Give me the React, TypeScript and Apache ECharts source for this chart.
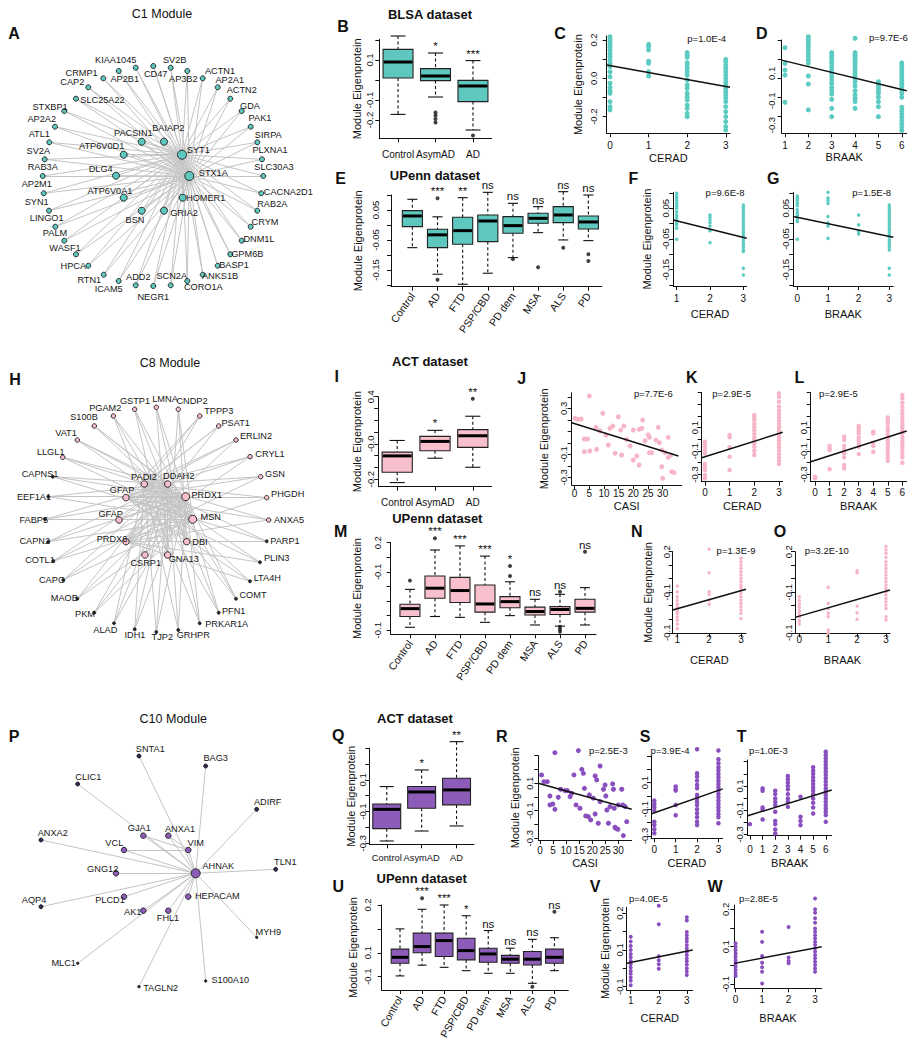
import React, { useEffect, useRef } from "react";
import * as echarts from "echarts";

// ================= DATA =================
// ---- Networks: [gene, x, y, kind] in each network's own layout frame (kind: 0 outer, 1 inner, 2 hub, 3 tiny)
const c1Nodes: [string, number, number, number][] = [
  ["KIAA1045", 135.7, 67.7, 0], ["AP2B1", 118.7, 71, 0], ["CRMP1", 103.3, 78.3, 0], ["CAP2", 88.3, 87.3, 0],
  ["SLC25A22", 76, 98.7, 0], ["STXBP1", 64.3, 111, 0], ["AP2A2", 55, 126.7, 0], ["ATL1", 49.3, 142.3, 0],
  ["SV2A", 44.7, 159.3, 0], ["RAB3A", 42.7, 176, 0], ["AP2M1", 43.7, 193.3, 0], ["SYN1", 49, 210.7, 0],
  ["LINGO1", 55.3, 226.7, 0], ["PALM", 64.3, 240.7, 0], ["WASF1", 76, 254.3, 0], ["HPCA", 88.3, 265.7, 0],
  ["RTN1", 103.7, 274.7, 0], ["ICAM5", 118.7, 281, 0], ["ADD2", 135.7, 285.3, 0], ["NEGR1", 153.3, 286, 0],
  ["SCN2A", 170.7, 285.3, 0], ["CORO1A", 187.3, 281, 0], ["ANKS1B", 202.7, 274.7, 0], ["BASP1", 217.7, 265.7, 0],
  ["GPM6B", 230.3, 254.3, 0], ["DNM1L", 241.7, 240.7, 0], ["CRYM", 250.7, 226.7, 0], ["RAB2A", 257.3, 210.7, 0],
  ["CACNA2D1", 261.3, 193.3, 0], ["SLC30A3", 263.3, 176, 0], ["PLXNA1", 262, 159.3, 0], ["SIRPA", 257.3, 142.3, 0],
  ["PAK1", 250.7, 126.7, 0], ["GDA", 241.7, 111, 0], ["ACTN2", 230.3, 98.7, 0], ["AP2A1", 217.7, 87.3, 0],
  ["ACTN1", 202.7, 78.3, 0], ["AP3B2", 187.3, 71, 0], ["SV2B", 170.7, 67.7, 0], ["CD47", 153.3, 66, 0],
  ["PACSIN1", 141.7, 141.7, 1], ["BAIAP2", 164, 141.7, 1], ["SYT1", 182, 154.7, 2], ["ATP6V0D1", 123.7, 154.7, 1],
  ["DLG4", 116, 175.7, 1], ["STX1A", 189.3, 176, 2], ["ATP6V0A1", 123.7, 197.7, 1], ["HOMER1", 182.7, 197.7, 1],
  ["BSN", 141.7, 210.7, 1], ["GRIA2", 164, 210.7, 1],
];
const c1Hubs = ["SYT1", "STX1A"];

const c8Nodes: [string, number, number, number][] = [
  ["GSTP1", 134.7, 69.3, 0], ["PGAM2", 113.3, 76, 0], ["S100B", 94.3, 86, 0], ["VAT1", 77.3, 100, 0],
  ["LLGL1", 62.7, 117.3, 0], ["CAPNS1", 52.7, 136.7, 3], ["EEF1A1", 48.3, 156.7, 3], ["FABP5", 45, 179.3, 3],
  ["CAPN2", 48.3, 201.7, 3], ["COTL1", 53.3, 221, 3], ["CAPG", 63.3, 240, 3], ["MAOB", 77.3, 258.7, 3],
  ["PKM", 94.3, 272.7, 3], ["ALAD", 114, 283.3, 3], ["IDH1", 134.7, 289.3, 3], ["TJP2", 156.3, 292, 3],
  ["GRHPR", 178.3, 290, 3], ["PRKAR1A", 199.7, 283.3, 3], ["PFN1", 218.7, 272.7, 3], ["COMT", 236, 258.7, 3],
  ["LTA4H", 250, 241.3, 3], ["PLIN3", 260, 222.3, 3], ["PARP1", 266.7, 201.3, 3], ["ANXA5", 268.7, 180, 0],
  ["PHGDH", 266.7, 157.7, 0], ["GSN", 260.7, 136.7, 0], ["CRYL1", 250, 116.7, 0], ["ERLIN2", 236, 100, 0],
  ["PSAT1", 218.7, 86, 0], ["TPPP3", 199.7, 76, 0], ["CNDP2", 178.3, 69.3, 0], ["LMNA", 156.3, 67.3, 0],
  ["PADI2", 144.3, 144, 1], ["DDAH2", 167.7, 144, 1], ["GFAP", 126, 157.7, 1], ["PRDX1", 185.7, 156.7, 2],
  ["GFAP", 119, 180, 1], ["MSN", 192.7, 179.3, 2], ["PRDX6", 126, 201.7, 1], ["DBI", 186.7, 201.7, 1],
  ["CSRP1", 145, 215, 1], ["GNA13", 167.7, 215, 1],
];
// groups of node indices and the inner nodes each of them links to
const c8LinkGroups: [number[], number[]][] = [
  [[2, 3, 4, 5, 6, 7, 8, 9, 10, 11, 12], [35, 37, 33]],
  [[13, 14, 15, 16, 17, 18, 19], [35, 32, 33]],
  [[20, 21, 22, 23, 24, 25, 26, 27, 28, 29], [34, 38, 32]],
  [[0, 1, 30, 31], [37, 39, 41]],
  [[32], [35, 37]], [[33], [36, 38]], [[34], [37]], [[36], [35]], [[38], [35]], [[40], [35, 33]], [[41], [33]], [[39], [34]],
];

const c10Nodes: [string, number, number, number][] = [
  ["SNTA1", 139, 86, 0], ["BAG3", 205.7, 96, 0], ["CLIC1", 77.7, 114, 0], ["ADIRF", 256.7, 139.3, 0],
  ["ANXA2", 41, 170, 0], ["GJA1", 143.3, 165.7, 1], ["ANXA1", 168.3, 165.7, 1], ["VIM", 188.3, 180, 1],
  ["VCL", 124, 180, 1], ["AHNAK", 195.7, 203.3, 2], ["TLN1", 275.7, 199.3, 0], ["GNG12", 116, 203.3, 1],
  ["PLCD1", 124, 226.7, 1], ["HEPACAM", 188.3, 226.7, 1], ["AQP4", 41, 236.7, 0], ["AK1", 143.3, 240.7, 1],
  ["FHL1", 168.3, 240.7, 1], ["MYH9", 256.7, 267.3, 3], ["MLC1", 77.7, 293.3, 3], ["TAGLN2", 139, 316.7, 3],
  ["S100A10", 205.7, 311, 3],
];
const c10Extra: [string, string][] = [["GJA1", "VIM"], ["ANXA1", "VIM"], ["VCL", "VIM"]];

// ---- Box plots: [lower whisker, Q1, median, Q3, upper whisker]; outliers [group, value]
const blsaCats = ["Control", "AsymAD", "AD"];
const upennCats = ["Control", "AD", "FTD", "PSP/CBD", "PD dem", "MSA", "ALS", "PD"];

const bBox = [[-0.172, 0.01, 0.09, 0.153, 0.22], [-0.085, -0.003, 0.02, 0.057, 0.135], [-0.25, -0.108, -0.03, -0.002, 0.097]];
const bOut = [[2, -0.162], [2, -0.178], [2, -0.195], [2, -0.212], [3, -0.277]];
const bSig = ["", "*", "***"];

const eBox = [
  [-0.0757, -0.0056, 0.03, 0.048, 0.0857], [-0.1644, -0.0757, -0.033, -0.0144, 0.0272],
  [-0.1978, -0.0644, -0.0189, 0.0256, 0.0911], [-0.161, -0.0556, 0.0133, 0.0333, 0.1089],
  [-0.1089, -0.0278, -0.0022, 0.0278, 0.0722], [-0.0256, 0.0056, 0.0222, 0.0389, 0.0611],
  [-0.05, 0.0078, 0.0333, 0.0611, 0.1111], [-0.0522, -0.0133, 0.01, 0.03, 0.1],
];
const eOut = [[2, 0.089], [2, -0.183], [5, -0.114], [6, -0.141], [7, -0.076], [8, -0.098], [8, -0.12]];
const eSig = ["", "***", "**", "ns", "ns", "ns", "ns", "ns"];

const iBox = [[-0.33, -0.242, -0.103, -0.071, 0.028], [-0.123, -0.06, 0.02, 0.063, 0.114], [-0.2, -0.031, 0.068, 0.12, 0.234]];
const iOut = [[3, 0.382]];
const iSig = ["", "*", "**"];

const mBox = [
  [-0.09, -0.053, -0.026, -0.011, 0.04], [-0.053, 0.0096, 0.044, 0.086, 0.175],
  [-0.056, -0.005, 0.036, 0.081, 0.189], [-0.073, -0.038, -0.01, 0.055, 0.154],
  [-0.05, -0.023, -0.002, 0.015, 0.066], [-0.082, -0.048, -0.036, -0.021, 0.006],
  [-0.086, -0.046, -0.029, -0.019, 0.023], [-0.082, -0.038, -0.025, 0.006, 0.046],
];
const mOut = [[1, 0.07], [2, 0.215], [5, 0.12], [5, 0.086], [7, 0.032], [7, -0.088], [7, -0.097], [7, -0.105], [8, 0.169]];
const mSig = ["", "***", "***", "***", "*", "ns", "ns", "ns"];

const qBox = [[-0.286, -0.208, -0.086, -0.052, 0.058], [-0.223, -0.079, 0.024, 0.058, 0.163], [-0.191, -0.058, 0.037, 0.111, 0.342]];
const qOut: number[][] = [];
const qSig = ["", "*", "**"];

const uBox = [
  [-0.097, -0.044, -0.019, 0.015, 0.1], [-0.052, 0.0, 0.026, 0.082, 0.182],
  [-0.061, -0.016, 0.051, 0.082, 0.2], [-0.075, -0.03, 0.009, 0.061, 0.155],
  [-0.086, -0.04, -0.005, 0.019, 0.093], [-0.086, -0.044, -0.027, -0.011, 0.019],
  [-0.128, -0.051, -0.027, 0.005, 0.056], [-0.075, -0.044, -0.019, 0.015, 0.063],
];
const uOut = [[2, 0.228], [7, -0.142], [8, 0.172]];
const uSig = ["", "***", "***", "*", "ns", "ns", "ns", "ns"];

// ---- Scatter columns (module eigenprotein values at each stage)
const c0 = [0.217, 0.203, 0.19, 0.175, 0.162, 0.148, 0.13, 0.113, 0.095, 0.078, 0.061, 0.034, 0.008, -0.026, -0.047, -0.065, -0.078, -0.122, -0.148, -0.165];
const c1 = [0.177, 0.165, 0.148, 0.09, 0.078, 0.034, 0.012];
const c2 = [0.134, 0.122, 0.11, 0.081, 0.069, 0.052, 0.034, 0.017, -0.009, -0.035, -0.052, -0.078, -0.096, -0.113, -0.139, -0.157, -0.183, -0.2];
const c3 = [0.099, 0.087, 0.069, 0.052, 0.034, 0.017, 0, -0.018, -0.035, -0.052, -0.07, -0.087, -0.104, -0.122, -0.148, -0.174, -0.2, -0.226, -0.252, -0.27];
const cLine = [[-0.086, 0.069], [3.11, -0.047]];

const d1 = [0.16, 0.078, 0.043, 0.017, -0.125];
const d2 = [0.217, 0.203, 0.191, 0.174, 0.162, 0.148, 0.13, 0.113, 0.095, 0.078, 0.012, -0.03, -0.165];
const d3 = [0.134, 0.122, 0.11, 0.095, 0.078, 0.061, 0.043, 0.026, 0.008, -0.009, -0.026, -0.047, -0.065, -0.082, -0.11, -0.157, -0.2];
const d4 = [0.209, 0.134, 0.122, 0.11, 0.095, 0.081, 0.069, 0.052, 0.04, 0.026, 0.012, 0, -0.018, -0.04, -0.065, -0.087, -0.104, -0.122, -0.157];
const d5 = [-0.018, -0.03, -0.04, -0.052, -0.065, -0.078, -0.099, -0.122, -0.148, -0.2];
const d6 = [0.081, 0.069, 0.057, 0.043, 0.029, 0.017, 0.005, -0.009, -0.023, -0.035, -0.047, -0.061, -0.078, -0.099, -0.151, -0.169, -0.186, -0.203, -0.221, -0.238, -0.256, -0.273];
const dLine = [[0.86, 0.095], [6.21, -0.065]];

const f1 = [0.099, 0.09, 0.083, 0.075, 0.066, 0.058, 0.05, 0.039, 0.028, 0.021, 0.012, 0.003, -0.004, -0.015, -0.051];
const f2 = [0.028, 0.021, 0.012, 0.003, -0.0075, -0.023, -0.062];
const f3 = [0.061, 0.053, 0.045, 0.036, 0.028, 0.021, 0.012, 0.003, -0.004, -0.013, -0.021, -0.029, -0.037, -0.044, -0.053, -0.062, -0.069, -0.077, -0.086, -0.091, -0.145, -0.167];
const fLine = [[0.9, 0.012], [3.1, -0.0476]];

const g0 = [0.09, 0.083, 0.075, 0.066, 0.058, 0.045, 0.036, 0.028, 0.021, 0.012, 0.007, -0.051];
const g1 = [0.102, 0.083, 0.075, 0.066, 0.023, 0.003, -0.0075, -0.048];
const g2 = [0.028, -0.004, -0.026, -0.034];
const g3 = [0.061, 0.053, 0.045, 0.036, 0.028, 0.021, 0.012, 0.003, -0.004, -0.013, -0.021, -0.029, -0.037, -0.044, -0.053, -0.062, -0.069, -0.077, -0.086, -0.145, -0.167];
const gLine = [[-0.13, 0.023], [3.13, -0.044]];

const jPts = [[0.1, 0.213], [1.0, 0.204], [2.2, 0.207], [5.0, 0.407], [3.3, 0.033], [4.4, 0.033], [3.3, -0.077], [5.2, -0.071], [7.5, -0.057], [9.6, 0.257], [7.3, 0.135], [8.6, 0.105], [10.7, 0.068], [12.0, 0.126], [13.0, 0.146], [11.5, -0.019], [13.8, -0.091], [14.9, 0.227], [15.7, 0.111], [16.0, -0.106], [16.8, 0.146], [17.7, 0.03], [18.9, -0.028], [20.0, 0.111], [20.0, -0.15], [21.2, -0.115], [22.0, 0.117], [22.0, -0.193], [22.9, 0.126], [23.2, 0.198], [24.0, 0.018], [25.1, 0.068], [25.5, 0.048], [25.5, -0.086], [26.3, -0.086], [27.7, 0.024], [28.5, 0.135], [28.9, 0.001], [29.7, -0.063], [29.7, -0.208], [30.0, -0.309], [30.8, -0.086], [31.9, 0.048], [31.9, -0.126], [32.8, -0.106], [33.1, -0.251], [33.9, -0.26]];
const jLine = [[-1, 0.175], [35.4, -0.115]];

const k0 = [-0.02, -0.04, -0.063, -0.091, -0.12, -0.211, -0.234, -0.262, -0.305, -0.333];
const k1 = [0.037, 0.017, -0.068, -0.149, -0.262];
const k2 = [0.208, 0.188, 0.165, 0.131, 0.103, 0.074, 0.045, 0.017, -0.006, -0.034, -0.063, -0.097, -0.134];
const k3 = [0.393, 0.364, 0.321, 0.279, 0.244, 0.216, 0.188, 0.159, 0.131, 0.103, 0.074, 0.045, 0.017, -0.012, -0.04, -0.068, -0.097, -0.126, -0.154, -0.183, -0.211];
const kLine = [[-0.13, -0.157], [3.15, 0.06]];

const l0 = [-0.32, -0.333];
const l1 = [-0.057, -0.077, -0.091, -0.256];
const l2 = [0.022, -0.006, -0.057, -0.091, -0.12, -0.154, -0.22, -0.248];
const l3 = [0.114, 0.094, 0.074, 0.051, 0.017, -0.006, -0.034, -0.063, -0.126];
const l4 = [0.065, 0.051, -0.029, -0.057, -0.106];
const l5 = [0.188, 0.165, 0.137, 0.103, 0.074, 0.045, 0.017, -0.012, -0.04, -0.068, -0.097, -0.126, -0.154, -0.183];
const l6 = [0.379, 0.35, 0.313, 0.279, 0.244, 0.216, 0.188, 0.159, 0.131, 0.103, 0.074, 0.045, 0.017, -0.012, -0.04, -0.068, -0.097, -0.126, -0.154, -0.2];
const lLine = [[-0.3, -0.191], [6.3, 0.071]];

const n1 = [0.073, 0.052, 0.033, 0.019, 0.006, -0.006, -0.019, -0.028, -0.041, -0.053, -0.068, -0.084];
const n2 = [0.209, 0.122, 0.052, 0.043, 0.021, 0.006];
const n3 = [0.176, 0.163, 0.151, 0.139, 0.126, 0.114, 0.101, 0.089, 0.077, 0.068, 0.058, 0.046, 0.033, 0.021, 0.009, -0.004, -0.016, -0.028, -0.047];
const nLine = [[0.855, -0.016], [3.16, 0.061]];

const o0 = [0.033, 0.019, 0.006, -0.006, -0.019, -0.028, -0.041, -0.056, -0.068];
const o1 = [0.068, 0.009, -0.01, -0.028, -0.041, -0.09, -0.1];
const o2 = [0.13, 0.122, -0.001, -0.026, -0.05];
const o3 = [0.219, 0.206, 0.194, 0.179, 0.163, 0.151, 0.139, 0.126, 0.114, 0.101, 0.089, 0.077, 0.064, 0.052, 0.04, 0.027, 0.015, 0.003, -0.01, -0.041, -0.053];
const oLine = [[-0.15, -0.043], [3.14, 0.058]];

const rPts = [[0.6, 0.16], [1.5, 0.111], [2.8, 0.111], [5.7, 0.322], [3.8, 0.007], [3.8, -0.058], [4.9, -0.051], [5.7, -0.09], [7.0, -0.002], [7.9, 0.056], [9.6, 0.046], [10.5, 0.046], [11.5, 0.002], [12.1, 0.027], [13.0, 0.16], [13.8, -0.058], [14.7, 0.337], [15.3, -0.082], [16.0, 0.201], [16.6, 0.172], [17.0, 0.063], [17.5, -0.138], [18.5, -0.143], [18.9, 0.015], [19.4, -0.167], [20.4, -0.009], [21.1, 0.153], [21.1, -0.124], [21.7, 0.124], [22.3, -0.191], [23.0, 0.225], [23.0, -0.034], [24.3, 0.056], [24.9, 0.087], [25.2, 0.007], [25.6, -0.095], [26.2, -0.191], [26.8, -0.07], [27.8, 0.095], [28.1, 0.056], [28.4, -0.082], [28.7, -0.22], [29.0, -0.228], [29.8, -0.235], [30.0, -0.058], [31.3, 0.056], [31.7, -0.058], [31.9, -0.281], [32.6, -0.07], [33.2, -0.18]];
const rLine = [[-0.65, 0.1], [35.1, -0.089]];

const s0 = [-0.035, -0.06, -0.085, -0.11, -0.193, -0.218, -0.25, -0.28];
const s1 = [0.071, 0.05, 0.04, -0.068, -0.145];
const s2 = [0.351, 0.171, 0.145, 0.115, 0.083, 0.058, 0.008, -0.017, -0.043, -0.068, -0.1, -0.13, -0.16, -0.193, -0.218];
const s3 = [0.341, 0.276, 0.246, 0.216, 0.191, 0.165, 0.14, 0.115, 0.09, 0.065, 0.04, 0.015, -0.01, -0.035, -0.06, -0.085, -0.11, -0.135, -0.16, -0.205];
const sLine = [[-0.155, -0.135], [3.2, 0.053]];

const t0 = [-0.215];
const t1 = [0.08, 0.06, -0.077, -0.094, -0.177];
const t2 = [0.06, 0.033, -0.003, -0.031, -0.058, -0.113, -0.188, -0.215, -0.259, -0.292];
const t3 = [0.182, 0.155, 0.126, 0.099, 0.072, 0.033, -0.003, -0.031, -0.072];
const t4 = [0.011, -0.154, -0.188, -0.223];
const t5 = [0.255, 0.226, 0.198, 0.171, 0.143, 0.116, 0.088, 0.06, 0.033, -0.003, -0.039, -0.077, -0.127];
const t6 = [0.383, 0.355, 0.328, 0.3, 0.273, 0.245, 0.218, 0.19, 0.163, 0.135, 0.107, 0.08, 0.052, 0.025, -0.003, -0.031, -0.058, -0.085, -0.113, -0.14, -0.196];
const tLine = [[-0.18, -0.146], [6.47, 0.066]];

const v1 = [0.136, 0.123, 0.111, 0.1, 0.089, 0.08, 0.07, 0.061, 0.052, 0.043, 0.035, 0.025, 0.016, 0.004];
const v2 = [0.22, 0.17, 0.083, 0.072, 0.061, 0.049];
const v3 = [0.189, 0.18, 0.149, 0.14, 0.131, 0.123, 0.113, 0.104, 0.095, 0.086, 0.077, 0.069, 0.06, 0.05, 0.041, 0.032];
const vLine = [[0.857, 0.0637], [3.21, 0.1]];

const w0 = [0.109, 0.1, 0.091, 0.082, 0.073, 0.064, 0.056, 0.047, 0.038, 0.029, 0.022];
const w1 = [0.14, 0.113, 0.075, 0.057, 0.045, 0.033, 0.002];
const w2 = [0.153, 0.071, 0.062, 0.056];
const w3 = [0.229, 0.2, 0.191, 0.176, 0.164, 0.149, 0.14, 0.131, 0.122, 0.113, 0.105, 0.096, 0.087, 0.078, 0.069, 0.06, 0.051, 0.042, 0.033];
const wLine = [[-0.05, 0.0556], [3.25, 0.1]];

// ---- Tick values and tick labels
const stage3 = [0, 1, 2, 3];
const stage13 = [1, 2, 3];
const stage16 = [1, 2, 3, 4, 5, 6];
const stage06 = [0, 1, 2, 3, 4, 5, 6];
const casiTicks = [0, 5, 10, 15, 20, 25, 30];
const tick02 = [0.2, 0.1, 0, -0.1, -0.2];
const tick03 = [0.3, 0.2, 0.1, 0, -0.1, -0.2, -0.3];
const tick04 = [0.4, 0.3, 0.2, 0.1, 0, -0.1, -0.2, -0.3];
const tickE = [0.1, 0.05, 0, -0.05, -0.1, -0.15, -0.2];
const tickM = [0.2, 0.15, 0.1, 0.05, 0, -0.05, -0.1];
const tickU = [0.2, 0.1, 0, -0.1];
const tickV = [0.2, 0.15, 0.1, 0.05, 0];
const bYAt = [0.1, -0.1, -0.2], bYLab = ["0.1", "-0.1", "-0.2"];
const cYAt = [0.2, 0, -0.2], cYLab = ["0.2", "0.0", "-0.2"];
const dYAt = [0.026, -0.117, -0.244], dYLab = ["0.1", "-0.1", "-0.3"];
const eYAt = [0.05, -0.05, -0.15], eYLab = ["0.05", "-0.05", "-0.15"];
const iYAt = [0.4, 0, -0.3], iYLab = ["0.4", "-0.0", "-0.2"];
const jYAt = [0.3, -0.1, -0.3], jYLab = ["0.3", "-0.1", "-0.3"];
const kYAt = [0.1, -0.1, -0.3], kYLab = ["0.1", "-0.1", "-0.3"];
const mYAt = [0.2, 0.1, -0.1], mYLab = ["0.2", "-0.1", "-0.1"];
const nYAt = [0.2, 0.05, -0.1], nYLab = ["0.2", "-0.1", "-0.1"];
const uYAt = [0.2, 0, -0.1], uYLab = ["0.2", "0.1", "-0.1"];
const vYAt = [0.2, 0.1, 0], vYLab = ["0.2", "0.1", "-0.1"];

const pTexts = ["p=1.0E-4", "p=9.7E-6", "p=9.6E-8", "p=1.5E-8", "p=7.7E-6", "p=2.9E-5", "p=2.9E-5", "p=1.3E-9", "p=3.2E-10", "p=2.5E-3", "p=3.9E-4", "p=1.0E-3", "p=4.0E-5", "p=2.8E-5"];
const moduleTitles = ["C1 Module", "C8 Module", "C10 Module"];
const datasetTitles = ["BLSA dataset", "UPenn dataset", "ACT dataset", "UPenn dataset", "ACT dataset", "UPenn dataset"];
const panelLetters = ["A", "B", "C", "D", "E", "F", "G", "H", "I", "J", "K", "L", "M", "N", "O", "P", "Q", "R", "S", "T", "U", "V", "W"];

// ================= LAYOUT & STYLE =================
const FONT = "'Liberation Sans', Arial, Helvetica, sans-serif";
const INK = "#111111";
const TEAL = "#5ec8bf", TEAL_DOT = "#5ccbc2";
const PINK = "#f8bfcc", PINK_DOT = "#f6b6c7";
const PURPLE = "#8d5cb9", PURPLE_DOT = "#8a4fbe";
const YNAME = "Module Eigenprotein";

const c1LabelOff = [[-20, -8], [6, 8], [-21.7, -5.7], [-16, -5.3], [26.5, 1.3], [-14.3, -3.7], [-13.3, -8], [-10, -8.3], [-6.4, -8.6], [0, -9.3], [-7, -9.3], [-12.3, -9], [-8.6, -8.4], [-9.3, -8], [-11, -6.6], [-15, 0], [-14.4, 5.3], [-10, 7.7], [2.6, -8.6], [0, 10.7], [1, -9.6], [16, 6.3], [17.3, 1.3], [16.3, -0.7], [17, -0.3], [17.3, -1.4], [14.3, -5], [15, -6.7], [27, -1.3], [10.7, -9.3], [8, -9.3], [11, -7.3], [9.3, -8.4], [8.3, -5], [11.4, -8.7], [12, -7.5], [17.3, -7.8], [-4, 7.7], [4, -7.7], [2.4, 8], [-8.4, -8.4], [4.3, -13.4], [16.3, -4.7], [-22, -8.7], [-15.3, -6.4], [24, -3.3], [-13.7, -7], [23, 0.6], [-6.7, 9.3], [20, 2]];
const c8LabelOff = [[0.3, -8.3], [-8, -7.7], [-10.3, -8.7], [-11.3, -7.3], [-12, -5.3], [-12.7, -2.4], [-14.3, 0], [-11.3, 0.7], [-13.6, -0.4], [-13.3, -1], [-11.3, 0], [-13, -1], [-9.3, 1.3], [-8.7, 6.7], [0.3, 5.7], [6, 4.7], [15, 5], [27, 0.7], [15, -2], [17, -4], [17.3, -3.6], [16.7, -4], [18.3, -0.3], [20.3, 0], [21, -3.4], [14.3, -2.4], [20, -2.4], [20, -4.3], [17, -3.3], [19, -5], [13.7, -8.3], [8.7, -8.3], [-0.3, -7.3], [11, -8], [-4, -7.7], [21, -1.7], [-8.3, -5.7], [18, -2.6], [-14, -2.7], [13.3, 0], [0.7, 7.7], [16, 4.3]];
const c10LabelOff = [[11.3, -7], [10, -7.7], [10.6, -7.3], [11, -7.3], [11.7, -6.7], [-4, -7.4], [11.7, -6.7], [7.4, -7], [-9.7, -7], [22.6, -7.3], [9.6, -7], [-13.3, -4.6], [-14, 3.3], [29, -0.7], [-7, -6.7], [-10.6, 1.6], [-0.3, 7.6], [11.6, -5.6], [-14, 0], [21.7, 1.6], [24.6, -1]];

const moduleTitlePos = [[162, 14], [170, 362.7], [173.3, 719.3]];
const datasetTitlePos = [[430, 14], [435, 175], [430, 361.7], [437.3, 518.5], [415, 718.3], [421.7, 878.3]];
const letterPos = [[14, 33], [343, 26], [560, 33], [761.7, 33], [340.7, 178], [633.3, 178.3], [773.3, 178.3], [15, 379.3], [336.7, 376.7], [521.7, 378.3], [691.7, 377.3], [799.3, 377.3], [340.7, 531.7], [636.7, 531.7], [780, 531.7], [14, 736.7], [338.3, 735], [501.7, 736.7], [645, 736.7], [741.7, 736.7], [338.3, 886], [595, 886], [715, 886]];
const pPos = [[706.7, 38.3], [888.3, 37.3], [725, 192.3], [871.7, 192.3], [653.3, 393.3], [731.7, 393.3], [838.3, 393.3], [736, 550.7], [826.7, 550.7], [608.3, 750], [670, 750], [768.3, 750], [648.3, 898.3], [758.3, 898.3]];

type Ax = { min: number; max: number; ticks: number[]; at: number[]; texts: string[]; margin: number; name?: string; gap?: number; rotate?: number; size?: number; cat?: string[] };
type Panel = { g: number[]; x: Ax; y: Ax };
const num = (a: number[]) => a.map((v) => String(v));
const catAx = (cats: string[], min: number, max: number, margin: number, rotate = 0): Ax => ({ min, max, ticks: cats.map((_, i) => i + 1), at: cats.map((_, i) => i + 1), texts: cats, margin, rotate, size: 10.5 });
const bandAx = (cats: string[], margin: number, size = 10): Ax => ({ min: 0, max: 0, ticks: [], at: [], texts: [], margin, cat: cats, size });
const numAx = (t: number[], min: number, max: number, margin: number, name: string, gap: number): Ax => ({ min, max, ticks: t, at: t, texts: num(t), margin, name, gap });
const yAx = (min: number, max: number, ticks: number[], at: number[], texts: string[], margin: number, gap?: number): Ax => ({ min, max, ticks, at, texts, margin, name: gap == null ? "" : YNAME, gap });

const P: Record<string, Panel> = {
  B: { g: [379.3, 39.3, 491.7, 138.3], x: bandAx(blsaCats, 11), y: yAx(-0.2915, 0.2035, tick02, bYAt, bYLab, 4.5, 16.5) },
  C: { g: [606.7, 36, 730, 133.3], x: numAx(stage3, -0.086, 3.11, 7, "CERAD", 19), y: yAx(-0.287, 0.2207, tick02, cYAt, cYLab, 8.5, 23) },
  D: { g: [781.7, 40, 906.7, 133.3], x: numAx(stage16, 0.86, 6.21, 7, "BRAAK", 18.5), y: yAx(-0.287, 0.2, tick02, dYAt, dYLab, 5) },
  E: { g: [391, 195, 601.7, 286.7], x: catAx(upennCats, 0.15, 8.53, 7, 55), y: yAx(-0.206, 0.1, tickE, eYAt, eYLab, 10.5, 28) },
  F: { g: [673.3, 192.3, 746.7, 286], x: numAx(stage13, 0.9, 3.1, 7, "CERAD", 22), y: yAx(-0.203, 0.102, tickE, eYAt, eYLab, 3, 21) },
  G: { g: [793.3, 192.3, 893.3, 286], x: numAx(stage3, -0.13, 3.13, 7, "BRAAK", 22), y: yAx(-0.203, 0.102, tickE, eYAt, eYLab, 3) },
  I: { g: [378.3, 396.7, 491.7, 486.7], x: bandAx(blsaCats, 10.5), y: yAx(-0.365, 0.4, tick04, iYAt, iYLab, 3, 15.5) },
  J: { g: [571.7, 392.7, 681.7, 485], x: numAx(casiTicks, -1, 36.5, 3, "CASI", 15), y: yAx(-0.367, 0.436, tick04, jYAt, jYLab, 3.5, 22) },
  K: { g: [701.7, 392.3, 782.7, 481.7], x: numAx(stage3, -0.13, 3.15, 6, "CERAD", 18.5), y: yAx(-0.362, 0.402, tick04, kYAt, kYLab, 2.5) },
  L: { g: [810.7, 392.3, 906.7, 481.7], x: numAx(stage06, -0.3, 6.3, 6, "BRAAK", 18.5), y: yAx(-0.362, 0.402, tick04, kYAt, kYLab, 2.5) },
  M: { g: [390.7, 542.7, 596, 634.3], x: catAx(upennCats, 0.23, 8.44, 7, 55), y: yAx(-0.114, 0.2, tickM, mYAt, mYLab, 8.5, 28) },
  N: { g: [672.7, 551.7, 746, 633.3], x: numAx(stage13, 0.855, 3.16, 1, "CERAD", 21), y: yAx(-0.102, 0.2, tickM, nYAt, nYLab, 1.5, 19) },
  O: { g: [795, 551.7, 890, 633.3], x: numAx(stage3, -0.15, 3.14, 1, "BRAAK", 21), y: yAx(-0.102, 0.2, tickM, nYAt, nYLab, 1.5) },
  Q: { g: [369.3, 748.3, 474, 844.3], x: bandAx(blsaCats, 9.5, 9.3), y: yAx(-0.307, 0.3, tick03, kYAt, kYLab, 1.5, 11) },
  R: { g: [538.3, 755.7, 631.7, 840], x: numAx(casiTicks, -0.65, 35.1, 5, "CASI", 17), y: yAx(-0.313, 0.3, tick03, kYAt, kYLab, 3.5, 18) },
  S: { g: [651, 756, 722.7, 838.3], x: numAx(stage3, -0.155, 3.2, 6, "CERAD", 19), y: yAx(-0.318, 0.3, tick03, kYAt, kYLab, 1.5) },
  T: { g: [747.7, 760, 831.7, 835.7], x: numAx(stage06, -0.18, 6.47, 9, "BRAAK", 21.5), y: yAx(-0.31, 0.314, tick03, kYAt, kYLab, 3) },
  U: { g: [381.7, 905, 568.3, 990], x: catAx(upennCats, 0.17, 8.63, 7, 60), y: yAx(-0.156, 0.2, tickU, uYAt, uYLab, 9.5, 23.5) },
  V: { g: [626.7, 907.3, 692.7, 990], x: numAx(stage13, 0.857, 3.21, 5, "CERAD", 22), y: yAx(-0.009, 0.216, tickV, vYAt, vYLab, 2, 16) },
  W: { g: [734.3, 905, 821.7, 988.3], x: numAx(stage3, -0.05, 3.25, 6, "BRAAK", 24), y: yAx(-0.011, 0.2115, tickV, vYAt, vYLab, 4) },
};

const lookup = (at: number[], texts: string[]) => (v: number) => {
  const i = at.findIndex((a) => Math.abs(a - v) < 1e-9);
  return i < 0 ? "" : texts[i];
};

const axisLineStyle = { show: true, onZero: false, lineStyle: { color: INK, width: 1 } };

function buildAxis(gi: number, a: Ax, isY: boolean) {
  if (a.cat) {
    return {
      type: "category",
      gridIndex: gi,
      data: a.cat,
      boundaryGap: true,
      axisLine: axisLineStyle,
      axisTick: { show: true, alignWithLabel: true, interval: 0, length: 4, lineStyle: { color: INK, width: 1 } },
      axisLabel: { show: true, interval: 0, fontSize: a.size, fontFamily: FONT, color: INK, margin: a.margin },
      splitLine: { show: false },
    };
  }
  return {
    type: "value",
    gridIndex: gi,
    min: a.min,
    max: a.max,
    axisLine: axisLineStyle,
    axisTick: { show: true, length: 4, customValues: a.ticks, lineStyle: { color: INK, width: 1 } },
    axisLabel: {
      show: true,
      customValues: a.at,
      formatter: lookup(a.at, a.texts),
      fontSize: a.size ?? (isY ? 9.5 : 10),
      fontFamily: FONT,
      fontWeight: "normal",
      color: INK,
      margin: a.margin,
      rotate: isY ? 90 : a.rotate ?? 0,
      showMinLabel: true,
      showMaxLabel: true,
      hideOverlap: false,
    },
    splitLine: { show: false },
    name: a.name ?? "",
    nameLocation: "middle",
    nameGap: a.gap ?? 20,
    nameRotate: isY ? 90 : 0,
    nameTextStyle: { fontSize: 11, fontFamily: FONT, fontWeight: "normal", color: INK },
  };
}

const col = (x: number, ys: number[]) => ys.map((y) => [x, y]);

function boxSeries(gi: number, boxes: number[][], outs: number[][], sig: string[], fill: string, band: boolean) {
  const shift = band ? 1 : 0;
  return [
    {
      type: "custom",
      xAxisIndex: gi,
      yAxisIndex: gi,
      clip: false,
      silent: true,
      z: 3,
      data: boxes.map((b, i) => [i + 1 - shift, b[0], b[1], b[2], b[3], b[4]]),
      encode: { x: 0, y: [1, 2, 3, 4, 5] },
      renderItem: (params: any, api: any) => {
        const i = params.dataIndex;
        const xv = api.value(0);
        const pt = (v: number) => api.coord([xv, v]);
        const cx = pt(api.value(1))[0];
        const yLo = pt(api.value(1))[1];
        const yQ1 = pt(api.value(2))[1];
        const yMed = pt(api.value(3))[1];
        const yQ3 = pt(api.value(4))[1];
        const yHi = pt(api.value(5))[1];
        const half = band ? api.size([1, 0])[0] * 0.4 : api.size([0.8, 0])[0] / 2;
        const dash = { stroke: INK, lineWidth: 1.1, lineDash: [3, 2.5] };
        const solid = { stroke: INK, lineWidth: 1.1 };
        const ln = (x1: number, y1: number, x2: number, y2: number, style: any) => ({ type: "line", shape: { x1, y1, x2, y2 }, style });
        let top = yHi;
        outs.forEach((o) => {
          if (o[0] === i + 1) top = Math.min(top, pt(o[1])[1]);
        });
        const children: any[] = [
          ln(cx, yHi, cx, yQ3, dash),
          ln(cx, yQ1, cx, yLo, dash),
          ln(cx - half / 2, yHi, cx + half / 2, yHi, solid),
          ln(cx - half / 2, yLo, cx + half / 2, yLo, solid),
          { type: "rect", shape: { x: cx - half, y: yQ3, width: 2 * half, height: yQ1 - yQ3 }, style: { fill, stroke: "#222", lineWidth: 1.1 } },
          ln(cx - half + 0.6, yMed, cx + half - 0.6, yMed, { stroke: "#000", lineWidth: 3 }),
        ];
        if (sig[i]) {
          children.push({
            type: "text",
            x: cx,
            y: top - 1,
            style: { text: sig[i], fontSize: 11.5, fontFamily: FONT, fill: INK, align: "center", verticalAlign: "bottom" },
          });
        }
        return { type: "group", children };
      },
    },
    {
      type: "scatter",
      xAxisIndex: gi,
      yAxisIndex: gi,
      data: outs.map((o) => [o[0] - shift, o[1]]),
      symbolSize: 4,
      itemStyle: { color: INK },
      silent: true,
      clip: false,
      z: 4,
    },
  ];
}

function scatterSeries(gi: number, pts: number[][], line: number[][], color: string, size: number) {
  return [
    { type: "scatter", xAxisIndex: gi, yAxisIndex: gi, data: pts, symbolSize: size, itemStyle: { color, opacity: 1 }, silent: true, clip: false, z: 2 },
    { type: "line", xAxisIndex: gi, yAxisIndex: gi, data: line, symbol: "none", lineStyle: { color: INK, width: 1.5 }, silent: true, z: 3 },
  ];
}

const nodeStyle = {
  c1: { size: [5, 7, 9, 3], fill: [TEAL, TEAL, TEAL, TEAL] },
  c8: { size: [4.5, 6.5, 8, 3], fill: [PINK, PINK, PINK, "#2a2a2a"] },
  c10: { size: [4, 5.5, 9, 2.5], fill: ["#3a2656", PURPLE, PURPLE, "#2a2a2a"] },
};

function networkSeries(gi: number, nodes: [string, number, number, number][], offs: number[][], links: number[][], st: { size: number[]; fill: string[] }) {
  return {
    type: "graph",
    coordinateSystem: "cartesian2d",
    xAxisIndex: gi,
    yAxisIndex: gi,
    silent: true,
    z: 2,
    data: nodes.map((n, i) => ({
      id: String(i),
      name: n[0],
      value: [n[1], n[2]],
      symbolSize: st.size[n[3]],
      itemStyle: { color: st.fill[n[3]], borderColor: "#1b1b1b", borderWidth: 0.9 },
      label: { show: true, position: "inside", offset: offs[i] },
    })),
    links: links.map(([s, t]) => ({ source: s, target: t })),
    lineStyle: { color: "#c4c4c4", width: 1, opacity: 1, curveness: 0 },
    label: { show: true, fontSize: 9.2, fontFamily: FONT, color: "#161616", formatter: "{b}" },
    emphasis: { disabled: true },
  };
}

function buildOption() {
  const grids: any[] = [];
  const xs: any[] = [];
  const ys: any[] = [];
  const series: any[] = [];

  // network frames
  const frames = [[0, 0, 330, 330], [0, 340, 330, 330], [0, 670, 330, 380]];
  frames.forEach((f, gi) => {
    grids.push({ left: f[0], top: f[1], width: f[2], height: f[3] });
    xs.push({ type: "value", gridIndex: gi, min: 0, max: f[2], show: false });
    ys.push({ type: "value", gridIndex: gi, min: 0, max: f[3], inverse: true, show: false });
  });

  const idx = (nodes: [string, number, number, number][], name: string) => nodes.findIndex((n) => n[0] === name);
  const c1Links: number[][] = [];
  const hubIdx = c1Hubs.map((h) => idx(c1Nodes, h));
  c1Nodes.forEach((_, i) => hubIdx.forEach((h) => { if (h !== i) c1Links.push([i, h]); }));
  const c8Links: number[][] = [];
  c8LinkGroups.forEach(([from, to]) => from.forEach((a) => to.forEach((b) => c8Links.push([a, b]))));
  const c10Links: number[][] = [];
  const ah = idx(c10Nodes, "AHNAK");
  c10Nodes.forEach((_, i) => { if (i !== ah) c10Links.push([i, ah]); });
  c10Extra.forEach(([a, b]) => c10Links.push([idx(c10Nodes, a), idx(c10Nodes, b)]));

  series.push(networkSeries(0, c1Nodes, c1LabelOff, c1Links, nodeStyle.c1));
  series.push(networkSeries(1, c8Nodes, c8LabelOff, c8Links, nodeStyle.c8));
  series.push(networkSeries(2, c10Nodes, c10LabelOff, c10Links, nodeStyle.c10));

  const gridOf: Record<string, number> = {};
  Object.keys(P).forEach((k) => {
    const p = P[k];
    const gi = grids.length;
    gridOf[k] = gi;
    grids.push({ left: p.g[0], top: p.g[1], width: p.g[2] - p.g[0], height: p.g[3] - p.g[1] });
    xs.push(buildAxis(gi, p.x, false));
    ys.push(buildAxis(gi, p.y, true));
  });

  series.push(...boxSeries(gridOf.B, bBox, bOut, bSig, TEAL, true));
  series.push(...boxSeries(gridOf.E, eBox, eOut, eSig, TEAL, false));
  series.push(...boxSeries(gridOf.I, iBox, iOut, iSig, PINK, true));
  series.push(...boxSeries(gridOf.M, mBox, mOut, mSig, PINK, false));
  series.push(...boxSeries(gridOf.Q, qBox, qOut, qSig, PURPLE, true));
  series.push(...boxSeries(gridOf.U, uBox, uOut, uSig, PURPLE, false));

  series.push(...scatterSeries(gridOf.C, [...col(0, c0), ...col(1, c1), ...col(2, c2), ...col(3, c3)], cLine, TEAL_DOT, 5));
  series.push(...scatterSeries(gridOf.D, [...col(1, d1), ...col(2, d2), ...col(3, d3), ...col(4, d4), ...col(5, d5), ...col(6, d6)], dLine, TEAL_DOT, 5));
  series.push(...scatterSeries(gridOf.F, [...col(1, f1), ...col(2, f2), ...col(3, f3)], fLine, TEAL_DOT, 3.5));
  series.push(...scatterSeries(gridOf.G, [...col(0, g0), ...col(1, g1), ...col(2, g2), ...col(3, g3)], gLine, TEAL_DOT, 3.5));
  series.push(...scatterSeries(gridOf.J, jPts, jLine, PINK_DOT, 5));
  series.push(...scatterSeries(gridOf.K, [...col(0, k0), ...col(1, k1), ...col(2, k2), ...col(3, k3)], kLine, PINK_DOT, 4.5));
  series.push(...scatterSeries(gridOf.L, [...col(0, l0), ...col(1, l1), ...col(2, l2), ...col(3, l3), ...col(4, l4), ...col(5, l5), ...col(6, l6)], lLine, PINK_DOT, 4.5));
  series.push(...scatterSeries(gridOf.N, [...col(1, n1), ...col(2, n2), ...col(3, n3)], nLine, PINK_DOT, 3.5));
  series.push(...scatterSeries(gridOf.O, [...col(0, o0), ...col(1, o1), ...col(2, o2), ...col(3, o3)], oLine, PINK_DOT, 3.5));
  series.push(...scatterSeries(gridOf.R, rPts, rLine, PURPLE_DOT, 5));
  series.push(...scatterSeries(gridOf.S, [...col(0, s0), ...col(1, s1), ...col(2, s2), ...col(3, s3)], sLine, PURPLE_DOT, 4.5));
  series.push(...scatterSeries(gridOf.T, [...col(0, t0), ...col(1, t1), ...col(2, t2), ...col(3, t3), ...col(4, t4), ...col(5, t5), ...col(6, t6)], tLine, PURPLE_DOT, 4.5));
  series.push(...scatterSeries(gridOf.V, [...col(1, v1), ...col(2, v2), ...col(3, v3)], vLine, PURPLE_DOT, 4));
  series.push(...scatterSeries(gridOf.W, [...col(0, w0), ...col(1, w1), ...col(2, w2), ...col(3, w3)], wLine, PURPLE_DOT, 4));

  const txt = (text: string, x: number, y: number, size: number, weight = "normal") => ({
    type: "text",
    x,
    y,
    silent: true,
    style: { text, fontSize: size, fontWeight: weight, fontFamily: FONT, fill: INK, align: "center", verticalAlign: "middle" },
  });
  const elements: any[] = [];
  moduleTitles.forEach((t, i) => elements.push(txt(t, moduleTitlePos[i][0], moduleTitlePos[i][1], 12.5)));
  datasetTitles.forEach((t, i) => elements.push(txt(t, datasetTitlePos[i][0], datasetTitlePos[i][1], 13, "bold")));
  panelLetters.forEach((t, i) => elements.push(txt(t, letterPos[i][0], letterPos[i][1], 16, "bold")));
  pTexts.forEach((t, i) => elements.push(txt(t, pPos[i][0], pPos[i][1], 9.5)));

  return {
    animation: false,
    backgroundColor: "#ffffff",
    textStyle: { fontFamily: FONT },
    grid: grids,
    xAxis: xs,
    yAxis: ys,
    series,
    graphic: { elements },
  };
}

export default function App() {
  const ref = useRef<HTMLDivElement>(null);
  useEffect(() => {
    if (!ref.current) return;
    const chart = echarts.init(ref.current, null, { renderer: "svg" });
    chart.setOption(buildOption() as any);
    return () => chart.dispose();
  }, []);
  return <div ref={ref} style={{ position: "absolute", left: 0, top: 0, width: 922, height: 1050, background: "#fff" }} />;
}
